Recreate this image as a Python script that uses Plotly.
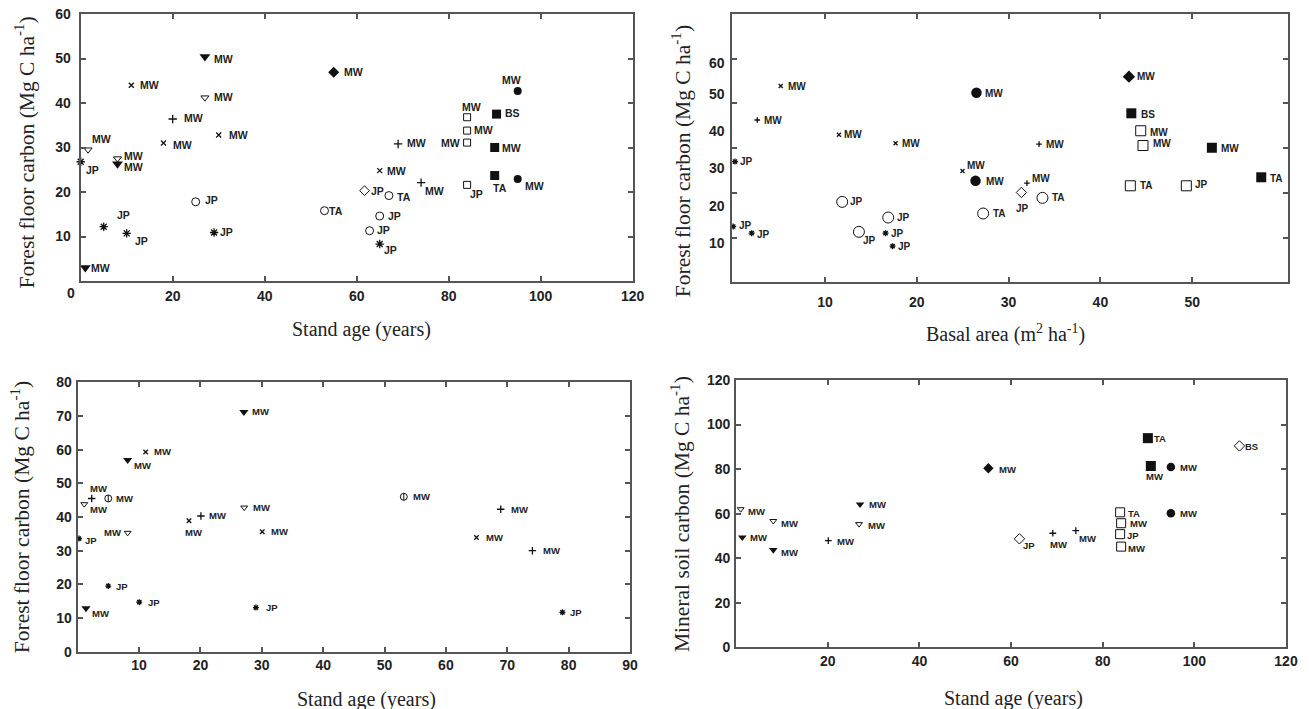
import plotly.graph_objects as go

# ---------------- data ----------------
# marker kinds: TF filled triangle, TO open triangle, X cross, P plus, A asterisk,
# CO open circle, CF filled circle, DF filled diamond, DO open diamond,
# SF filled square, SO open square, PHI circle with vertical bar

# Panel A: forest floor carbon vs stand age
a_kind = ["TF", "A", "TO", "TO", "TF", "X", "TF", "TO", "P", "X", "X", "A", "A", "A", "CO", "CO",
          "DF", "CF", "SO", "SF", "SO", "SO", "SF", "P", "X", "P", "SO", "SF", "CF", "DO", "CO", "CO", "CO", "A"]
a_age = [1, 0, 1.6, 8, 8, 11, 27, 27, 20, 18, 30, 5, 10, 29, 25, 53,
         55, 95, 84, 90.4, 84, 84, 90, 69, 65, 74, 84, 90, 95, 61.7, 67, 65, 62.8, 65]
a_ffc = [3, 26.8, 29.5, 27.5, 26.3, 44, 50.4, 41.2, 36.4, 31, 32.8, 12.2, 10.7, 10.9, 17.8, 15.8,
         46.9, 42.7, 36.8, 37.5, 33.8, 31.1, 30, 30.8, 24.8, 22.1, 21.6, 23.7, 22.9, 20.3, 19.2, 14.6, 11.3, 8.3]
a_tag = ["MW", "JP", "MW", "MW", "MW", "MW", "MW", "MW", "MW", "MW", "MW", "JP", "JP", "JP", "JP", "TA",
         "MW", "MW", "MW", "BS", "MW", "MW", "MW", "MW", "MW", "MW", "JP", "TA", "MW", "JP", "TA", "JP", "JP", "JP"]

# Panel B: forest floor carbon vs basal area
b_kind = ["X", "P", "X", "X", "A", "A", "A", "CO", "CO", "CO", "A", "A", "X", "CF", "CF", "CO",
          "DO", "P", "CO", "DF", "SF", "SO", "SO", "P", "SF", "SF", "SO", "SO"]
b_basal = [5.18, 2.63, 11.52, 17.69, 0.2, 0.0, 2.02, 11.88, 13.7, 16.89, 16.6, 17.37, 24.98, 26.5, 26.4, 27.23,
           31.4, 32.0, 33.69, 43.11, 43.37, 44.39, 44.64, 33.32, 52.14, 57.52, 43.26, 49.36]
b_ffc = [43.9, 36.3, 33.0, 31.1, 27.0, 12.5, 11.0, 18.0, 11.3, 14.5, 11.0, 8.1, 24.9, 42.4, 22.7, 15.4,
         20.1, 22.2, 18.9, 46.0, 37.8, 33.9, 30.6, 30.9, 30.1, 23.5, 21.6, 21.6]
b_tag = ["MW", "MW", "MW", "MW", "JP", "JP", "JP", "JP", "JP", "JP", "JP", "JP", "MW", "MW", "MW", "TA",
         "JP", "MW", "TA", "MW", "BS", "MW", "MW", "MW", "MW", "TA", "TA", "JP"]
b_ytick_text = ["60", "50", "40", "30", "20", "10", "0"]
b_ytick_at = [49.0, 42.05, 33.9, 25.64, 17.15, 8.74, -2.44]

# Panel C: forest floor carbon vs stand age (0-90 yr)
c_kind = ["TF", "X", "TF", "P", "TO", "PHI", "TO", "X", "P", "TO", "X", "A", "A", "A", "TF", "A",
          "PHI", "P", "X", "P", "A"]
c_age = [27.08, 11.07, 8.14, 2.28, 1.07, 4.98, 8.14, 18.13, 20.08, 27.13, 30.07, 0.21, 4.98, 10.03, 1.35, 29.04,
         53.14, 68.94, 64.98, 74.1, 78.99]
c_ffc = [71.2, 59.3, 56.9, 45.5, 43.8, 45.5, 35.3, 38.9, 40.3, 42.8, 35.6, 33.6, 19.5, 14.7, 12.9, 13.1,
         46.0, 42.3, 33.9, 30.0, 11.7]
c_tag = ["MW", "MW", "MW", "MW", "MW", "MW", "MW", "MW", "MW", "MW", "MW", "JP", "JP", "JP", "MW", "JP",
         "MW", "MW", "MW", "MW", "JP"]

# Panel D: mineral soil carbon vs stand age
d_kind = ["TO", "TF", "TO", "TF", "P", "TF", "TO", "DF", "SF", "DO", "SF", "CF", "CF", "SO", "SO", "SO", "SO",
          "P", "P", "DO"]
d_age = [0.98, 1.33, 8.1, 8.1, 20.1, 27.03, 26.81, 55.04, 89.85, 109.85, 90.5, 94.87, 94.87, 83.8, 84.02, 83.8, 84.02,
         69.1, 74.13, 61.81]
d_msc = [62.0, 49.4, 56.7, 43.7, 47.9, 64.2, 55.3, 80.4, 93.9, 90.4, 81.4, 80.9, 60.2, 60.6, 55.7, 50.8, 45.2,
         51.2, 52.4, 48.7]
d_tag = ["MW", "MW", "MW", "MW", "MW", "MW", "MW", "MW", "TA", "BS", "MW", "MW", "MW", "TA", "MW", "JP", "MW",
         "MW", "MW", "JP"]

# ---------------- label placement (anchor, dx px, dy px down) ----------------
a_tag_pos = [("l", 5, 0), ("l", 4, 8), ("l", 3, -11), ("l", 6, -3), ("l", 6, 3), ("l", 8, 0), ("l", 8, 2),
             ("l", 8, -1), ("l", 10, -1), ("l", 9, 2), ("l", 9, 0), ("l", 12, -12), ("l", 7, 8), ("l", 5, 0),
             ("l", 8, -2), ("l", 4, 0), ("l", 9, 0), ("c", -6, -11), ("c", 4, -10), ("l", 7, -1), ("l", 6, -1),
             ("r", -6, 0), ("l", 6, 0), ("l", 8, -1), ("l", 6, 0), ("l", 3, 8), ("l", 2, 9), ("c", 5, 12),
             ("l", 6, 7), ("l", 5, 0), ("l", 7, 1), ("l", 7, 0), ("l", 6, -1), ("l", 3, 6)]
b_tag_pos = [("l", 6, 0), ("l", 6, 0), ("l", 4, 0), ("l", 5, 0), ("l", 4, 0), ("l", 5, -1), ("l", 4, 1),
             ("l", 7, 0), ("l", 3, 9), ("l", 8, 0), ("l", 4, 0), ("l", 4, 0), ("l", 4, -6), ("l", 8, 1),
             ("l", 9, 1), ("l", 9, 0), ("c", 1, 16), ("l", 4, -5), ("l", 9, 0), ("l", 7, 0), ("l", 9, 1),
             ("l", 8, 2), ("l", 9, -2), ("l", 6, 0), ("l", 8, 1), ("l", 8, 1), ("l", 9, 0), ("l", 8, -1)]
c_tag_pos = [("l", 7, 0), ("l", 7, -1), ("l", 5, 5), ("c", 7, -10), ("l", 5, 5), ("l", 7, 0), ("r", -6, 0),
             ("c", 5, 12), ("l", 7, 0), ("l", 8, 0), ("l", 8, 0), ("l", 5, 2), ("l", 7, 0), ("l", 8, 0),
             ("l", 5, 5), ("l", 9, 0), ("l", 8, 0), ("l", 9, 0), ("l", 9, 0), ("l", 10, 0), ("l", 7, 0)]
d_tag_pos = [("l", 6, 2), ("l", 7, 0), ("l", 7, 2), ("l", 7, 3), ("l", 8, 1), ("l", 8, 0), ("l", 8, 1),
             ("l", 10, 1), ("l", 5, 0), ("l", 5, 1), ("c", 4, 11), ("l", 8, 0), ("l", 8, 0), ("l", 7, 1),
             ("l", 8, 0), ("l", 6, 1), ("l", 6, 2), ("c", 6, 11), ("l", 2, 8), ("l", 3, 7)]

# marker sizes per panel
a_size = dict(TF=9.5, TO=7, X=5, P=6, A=7, CO=8, CF=8, DF=8.5, DO=7.5, SF=9, SO=7, PHI=7)
b_size = dict(TF=9, TO=7, X=4, P=4, A=5, CO=11, CF=10.5, DF=9.5, DO=8, SF=10, SO=10, PHI=7)
c_size = dict(TF=8, TO=6, X=4.5, P=5.3, A=5, CO=7, CF=7, DF=8, DO=8, SF=9, SO=8, PHI=7)
d_size = dict(TF=7.5, TO=6, X=4.5, P=4.8, A=5, CO=8, CF=8.5, DF=8, DO=8, SF=10, SO=9, PHI=7)

INK = "#111111"
AX = "#555555"
TICK_FONT = dict(family="Liberation Sans", size=14, color="#222222", weight="bold")
SERIF = "Liberation Serif"

SYMBOL = dict(TF="triangle-down", TO="triangle-down-open", X="x-thin-open", P="cross-thin-open",
              A="asterisk-open", CO="circle-open", CF="circle", DF="diamond", DO="diamond-open",
              SF="square", SO="square-open")

fig = go.Figure()


def add_panel(n, xs, ys, kinds, tags, tag_pos, sizes, tag_font):
    xa = "x" if n == 1 else f"x{n}"
    ya = "y" if n == 1 else f"y{n}"
    for kind in ["SO", "SF", "CO", "CF", "DO", "DF", "TO", "TF", "X", "P", "A", "PHI"]:
        idx = [i for i, k in enumerate(kinds) if k == kind]
        if not idx:
            continue
        px = [xs[i] for i in idx]
        py = [ys[i] for i in idx]
        common = dict(x=px, y=py, mode="markers", xaxis=xa, yaxis=ya, cliponaxis=False,
                      showlegend=False, hoverinfo="skip")
        if kind == "PHI":
            fig.add_trace(go.Scatter(marker=dict(symbol="circle-open", size=sizes["PHI"], color=INK,
                                                 line=dict(color=INK, width=1)), **common))
            fig.add_trace(go.Scatter(marker=dict(symbol="line-ns-open", size=sizes["PHI"] * 0.72, color=INK,
                                                 line=dict(color=INK, width=1)), **common))
            continue
        filled = kind in ("TF", "CF", "DF", "SF")
        lw = 0 if filled else (1.3 if kind in ("X", "P", "A") else 1)
        fig.add_trace(go.Scatter(marker=dict(symbol=SYMBOL[kind], size=sizes[kind], color=INK,
                                             line=dict(color=INK, width=lw)), **common))
    anchors = {"l": "left", "r": "right", "c": "center"}
    for x, y, t, (anc, dx, dy) in zip(xs, ys, tags, tag_pos):
        fig.add_annotation(x=x, y=y, xref=xa, yref=ya, text=t, showarrow=False,
                           xanchor=anchors[anc], yanchor="middle", xshift=dx, yshift=-dy,
                           borderpad=0, font=tag_font)


def tag_font(size):
    return dict(family="Liberation Sans", size=size, color="#222222", weight="bold")


add_panel(1, a_age, a_ffc, a_kind, a_tag, a_tag_pos, a_size, tag_font(10.5))
add_panel(2, b_basal, b_ffc, b_kind, b_tag, b_tag_pos, b_size, tag_font(10))
add_panel(3, c_age, c_ffc, c_kind, c_tag, c_tag_pos, c_size, tag_font(9.5))
add_panel(4, d_age, d_msc, d_kind, d_tag, d_tag_pos, d_size, tag_font(9.5))


def axis(domain, rng, tickvals, anchor, standoff, labels=True):
    return dict(domain=domain, range=rng, tickvals=tickvals, anchor=anchor,
                showline=True, linecolor=AX, linewidth=2, mirror="ticks",
                ticks="inside", ticklen=5, tickwidth=2, tickcolor=AX,
                showgrid=False, zeroline=False, showticklabels=labels, automargin=False,
                ticklabelstandoff=standoff, tickfont=TICK_FONT, fixedrange=True)


fig.update_layout(
    width=1309, height=709,
    margin=dict(l=0, r=0, t=0, b=0, pad=0, autoexpand=False),
    paper_bgcolor="white", plot_bgcolor="white",
    xaxis=axis([0.06165, 0.48335], [0, 120], [20, 40, 60, 80, 100, 120], "y", 1),
    yaxis=axis([0.60367, 0.98025], [0, 60], [10, 20, 30, 40, 50, 60], "x", 5),
    xaxis2=axis([0.55944, 0.98373], [-0.09, 60.4], [10, 20, 30, 40, 50], "y2", 6),
    yaxis2=axis([0.60169, 0.98025], [0, 60], [10, 20, 30, 40, 50], "x2", 0, labels=False),
    xaxis3=axis([0.05936, 0.48128], [0, 90], [10, 20, 30, 40, 50, 60, 70, 80, 90], "y3", 0),
    yaxis3=axis([0.08082, 0.46079], [0, 80], [0, 10, 20, 30, 40, 50, 60, 70, 80], "x3", 1),
    xaxis4=axis([0.56241, 0.98243], [0, 120], [20, 40, 60, 80, 100, 120], "y4", 0),
    yaxis4=axis([0.08702, 0.46403], [0, 120], [0, 20, 40, 60, 80, 100, 120], "x4", 1),
)

# corner zero of the first panel
fig.add_annotation(x=0, y=0, xref="x", yref="y", text="0", showarrow=False, xanchor="right",
                   yanchor="middle", xshift=-5, yshift=-12, borderpad=0, font=TICK_FONT)

# value labels along the left side of the basal-area panel
for txt, at in zip(b_ytick_text, b_ytick_at):
    fig.add_annotation(x=0, y=at, xref="x2", yref="y2", text=txt, showarrow=False, xanchor="right",
                       yanchor="middle", xshift=-7, borderpad=0, font=TICK_FONT)

# axis titles
title_font = dict(family=SERIF, size=20, color="#222222")
ytitle_font = dict(family=SERIF, size=21.5, color="#222222")
titles = [
    (0.2760, 0.5346, "Stand age (years)", 0, title_font),
    (0.7678, 0.5303, "Basal area (m<sup>2</sup> ha<sup>-1</sup>)", 0, title_font),
    (0.2801, 0.0141, "Stand age (years)", 0, title_font),
    (0.7739, 0.0155, "Stand age (years)", 0, title_font),
    (0.0191, 0.7849, "Forest floor carbon (Mg C ha<sup>-1</sup>)", -90, ytitle_font),
    (0.5208, 0.7722, "Forest floor carbon (Mg C ha<sup>-1</sup>)", -90, ytitle_font),
    (0.0158, 0.2701, "Forest floor carbon (Mg C ha<sup>-1</sup>)", -90, ytitle_font),
    (0.5195, 0.2750, "Mineral soil carbon (Mg C ha<sup>-1</sup>)", -90, ytitle_font),
]
for tx, ty, text, ang, fnt in titles:
    fig.add_annotation(x=tx, y=ty, xref="paper", yref="paper", text=text, textangle=ang,
                       xanchor="center", yanchor="middle", showarrow=False, font=fnt)

fig.write_html("out.html")
